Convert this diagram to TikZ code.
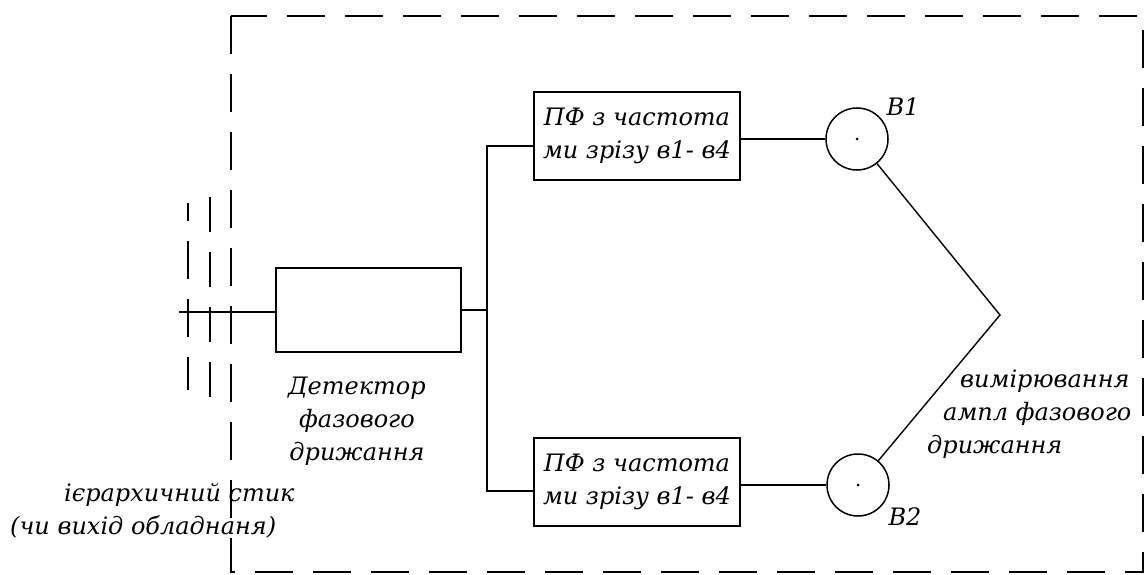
\documentclass[tikz,border=0pt]{standalone}
\usepackage{fontspec}
\setmainfont{DejaVu Serif}
\usepackage{tikz}
\usetikzlibrary{positioning,calc}
\tikzset{
  block-node/.style={draw=black, line width=2pt, minimum width=185pt,
    minimum height=84pt, inner sep=0pt},
  filter-node/.style={draw=black, line width=2pt, minimum width=206pt,
    minimum height=88pt, inner sep=0pt, align=center, font=\labelfont},
  meter-node/.style={draw=black, circle, line width=1.5pt, minimum size=62pt,
    inner sep=0pt},
  link-line/.style={line width=2pt, draw=black},
  thin-line/.style={line width=1.4pt, draw=black},
  frame-line/.style={line width=2.2pt, draw=black, dash pattern=on 38pt off 20pt},
  caption-text/.style={font=\labelfont, inner sep=0pt, align=left}
}
\newcommand{\labelfont}{\itshape\fontsize{24}{33}\selectfont}

\begin{document}
\begin{tikzpicture}[x=1pt, y=-1pt]
\useasboundingbox (0,0) rectangle (1145,575);
% Outer dashed frame
\draw[frame-line] (231,16) rectangle (1143,572);
% Extra dashed ticks at the input
\draw[frame-line, dash pattern=on 38pt off 20pt, dash phase=20pt] (188,203) -- (188,390);
\draw[frame-line, dash pattern=on 35pt off 20pt] (210,197) -- (210,405);

% Blocks
\node[block-node] (det) at (368,310) {};
\node[filter-node] (f1) at (637,136) {ПФ з частота\\ми зрізу в1- в4};
\node[filter-node] (f2) at (637,482) {ПФ з частота\\ми зрізу в1- в4};
\node[meter-node] (b1) at (857,139) {};
\node[meter-node] (b2) at (858,485) {};
\fill (b1) circle (1.5pt);
\fill (b2) circle (1.5pt);

% Points
\coordinate (inp) at (179,312);
\coordinate (bus) at (487,312);
\coordinate (jn) at (1000,315);

% Connectors
\draw[link-line] (inp) -- (inp -| det.west);
\draw[link-line] (det.east) -- (det.east -| bus);
\draw[link-line] ([yshift=-10pt]f1.west) -| (bus) |- ([yshift=-9pt]f2.west);
\draw[link-line] (b1.west -| f1.east) -- (b1.west);
\draw[link-line] (b2.west -| f2.east) -- (b2.west);
\draw[thin-line] (b1) -- (jn) -- (b2);

% Labels
\node[caption-text] (b1-label) at (903,107) {В1};
\node[caption-text] (b2-label) at (905,517) {В2};
\node[caption-text, align=center] (det-label) at (357,421)
  {Детектор\\фазового\\дрижання};
\node[caption-text, anchor=north west] (meas-label) at (927,370)
  {\hspace*{33pt}вимірювання\\\hspace*{16pt}ампл фазового\\дрижання};
\node[caption-text, anchor=north west] (in-label) at (10,483)
  {\hspace*{54pt}ієрархичний стик\\(чи вихід обладнаня)};
\end{tikzpicture}
\end{document}
